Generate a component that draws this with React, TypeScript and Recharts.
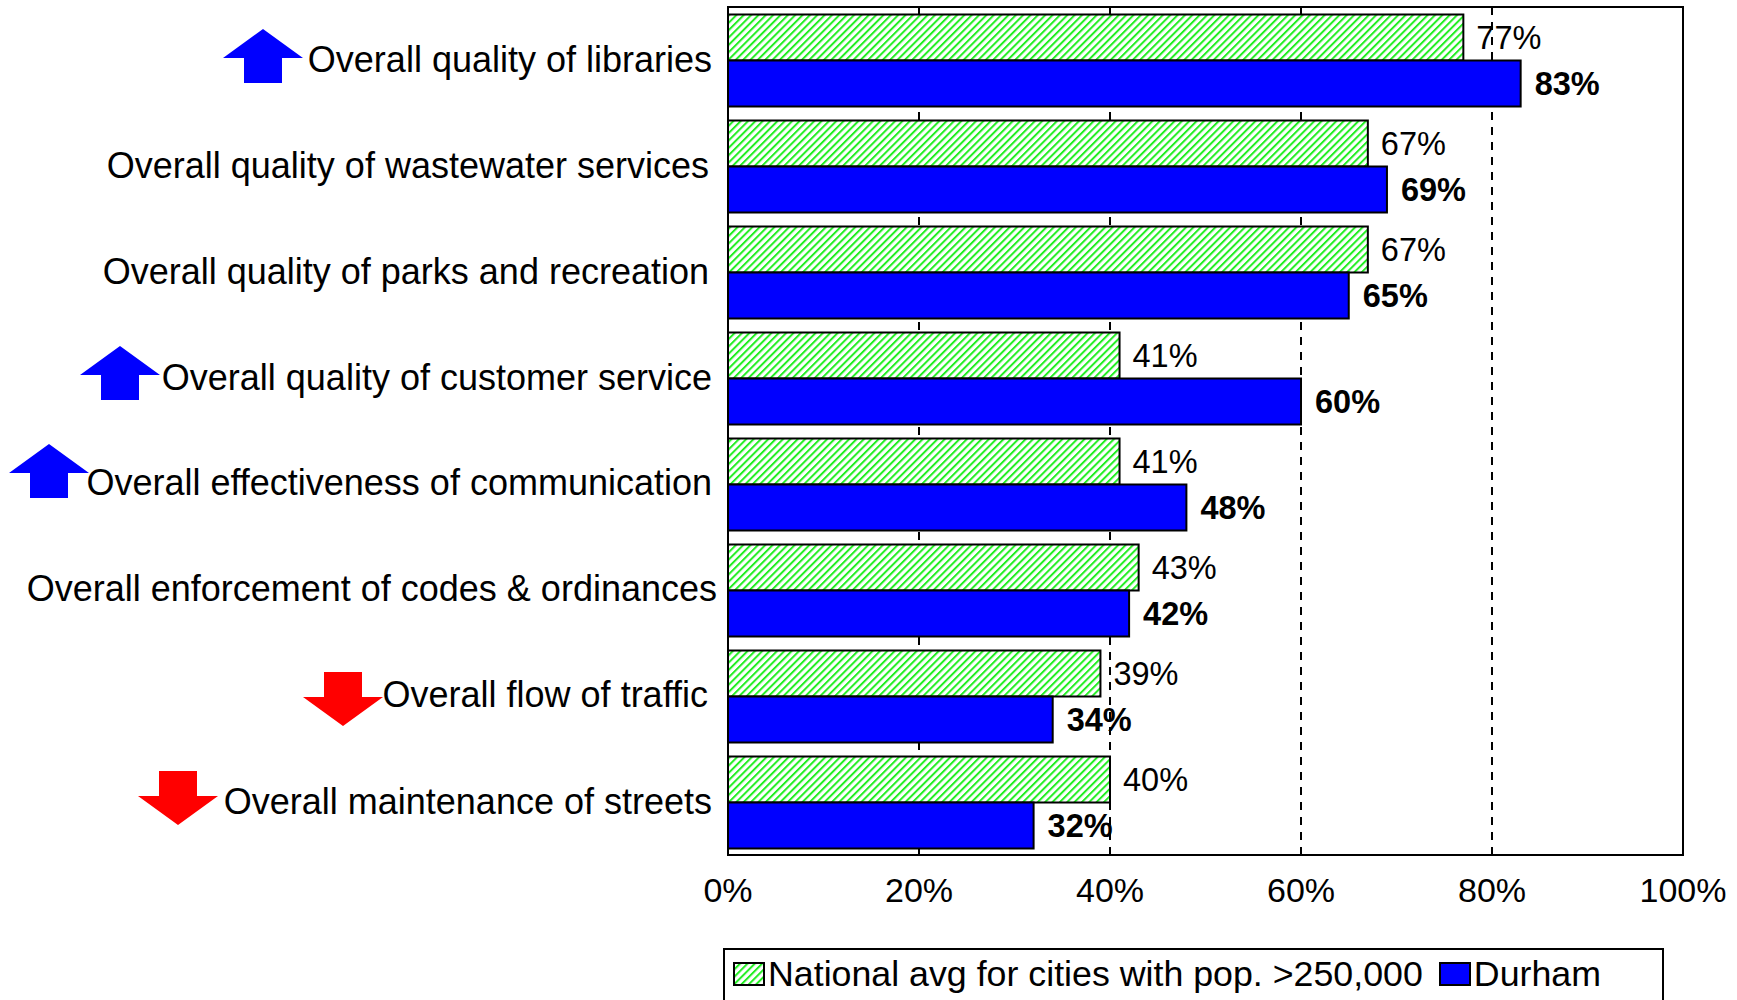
import { Bar, BarChart, CartesianGrid, LabelList, Legend, ReferenceArea, XAxis, YAxis } from 'recharts'

const categories = [
  'Overall quality of libraries',
  'Overall quality of wastewater services',
  'Overall quality of parks and recreation',
  'Overall quality of customer service',
  'Overall effectiveness of communication',
  'Overall enforcement of codes & ordinances',
  'Overall flow of traffic',
  'Overall maintenance of streets',
]
const nationalAvg = [77, 67, 67, 41, 41, 43, 39, 40]
const durham = [83, 69, 65, 60, 48, 42, 34, 32]
const xTicks = [0, 20, 40, 60, 80, 100]
const trends = ['up', '', '', 'up', 'up', '', 'down', 'down']

// hand placed in the original, so each label and arrow sits a little differently
const labelEnds = [712, 709, 709, 712, 712, 717, 708, 712]
const labelShifts = [0, 0, 0, 0, -1, -1, -1, 0]
const arrowCenters = [263, 0, 0, 120, 49, 0, 343, 178]
const arrowShifts = [-4, 0, 0, -5, -13, 0, 3, -4]

const FONT = '"Liberation Sans", Arial, sans-serif'
const NATIONAL_NAME = 'National avg for cities with pop. >250,000'

const data = categories.map((name, i) => ({ name, national: nationalAvg[i], durham: durham[i] }))

function CategoryTick({ y, index, payload }: any) {
  const trend = trends[index]
  const cx = arrowCenters[index]
  const s = arrowShifts[index]
  return (
    <g>
      {trend === 'up' && (
        <polygon
          fill="#0000ff"
          points={`${cx},${y + s - 27} ${cx + 40},${y + s + 2} ${cx + 19},${y + s + 2} ${cx + 19},${y + s + 27} ${cx - 19},${y + s + 27} ${cx - 19},${y + s + 2} ${cx - 40},${y + s + 2}`}
        />
      )}
      {trend === 'down' && (
        <polygon
          fill="#ff0000"
          points={`${cx},${y + s + 27} ${cx + 40},${y + s - 2} ${cx + 19},${y + s - 2} ${cx + 19},${y + s - 27} ${cx - 19},${y + s - 27} ${cx - 19},${y + s - 2} ${cx - 40},${y + s - 2}`}
        />
      )}
      <text x={labelEnds[index]} y={y + labelShifts[index]} dy={12} textAnchor="end" fontFamily={FONT} fontSize={36} fill="#000">
        {payload.value}
      </text>
    </g>
  )
}

function Stripes({ id }: { id: string }) {
  return (
    <pattern id={id} width={5.2} height={5.2} patternUnits="userSpaceOnUse" patternTransform="rotate(45)">
      <rect width={5.2} height={5.2} fill="#ffffff" />
      <rect width={2} height={5.2} fill="#22ee22" />
    </pattern>
  )
}

function LegendBox({ payload }: any) {
  return (
    <div
      style={{
        boxSizing: 'border-box',
        width: 941,
        height: 80,
        border: '2px solid #000',
        background: '#fff',
        display: 'flex',
        alignItems: 'flex-start',
        paddingTop: 5,
        paddingLeft: 8,
        fontFamily: FONT,
        fontSize: 35.75,
        lineHeight: '38px',
        color: '#000',
        whiteSpace: 'nowrap',
      }}
    >
      {payload.map((entry: any) => (
        <span key={entry.value} style={{ display: 'flex', alignItems: 'center', marginRight: 16 }}>
          <svg width={32} height={24} style={{ marginRight: 3 }}>
            <defs>
              <Stripes id="legendStripes" />
            </defs>
            <rect
              x={1}
              y={1}
              width={30}
              height={22}
              stroke="#000"
              strokeWidth={2}
              fill={entry.dataKey === 'national' ? 'url(#legendStripes)' : '#0000ff'}
            />
          </svg>
          {entry.value}
        </span>
      ))}
    </div>
  )
}

export default function App() {
  return (
    <div style={{ position: 'absolute', left: 0, top: 0, width: 1737, height: 1000, overflow: 'hidden', background: '#fff' }}>
      <BarChart
        width={1737}
        height={1000}
        data={data}
        layout="vertical"
        barCategoryGap="7%"
        barGap={0}
        margin={{ top: 7, right: 54, bottom: 85, left: 0 }}
      >
        <defs>
          <Stripes id="nationalStripes" />
        </defs>
        <CartesianGrid horizontal={false} stroke="#000" strokeWidth={2} strokeDasharray="8 7" />
        <XAxis
          type="number"
          domain={[0, 100]}
          ticks={xTicks}
          tickFormatter={(value) => `${value}%`}
          axisLine={false}
          tickLine={false}
          height={60}
          tickMargin={17}
          tick={{ fill: '#000', fontSize: 34, fontFamily: FONT }}
        />
        <YAxis
          type="category"
          dataKey="name"
          width={728}
          interval={0}
          axisLine={false}
          tickLine={false}
          tick={<CategoryTick />}
        />
        <Legend
          layout="horizontal"
          verticalAlign="middle"
          align="center"
          itemSorter={null}
          content={<LegendBox />}
          wrapperStyle={{ left: 723, top: 948, width: 941, height: 80 }}
        />
        <Bar dataKey="national" name={NATIONAL_NAME} fill="url(#nationalStripes)" stroke="#000" strokeWidth={2} isAnimationActive={false}>
          <LabelList
            dataKey="national"
            position="right"
            offset={13}
            formatter={(value: number) => `${value}%`}
            style={{ fill: '#000', fontSize: 32.5, fontFamily: FONT }}
          />
        </Bar>
        <Bar dataKey="durham" name="Durham" fill="#0000ff" stroke="#000" strokeWidth={2} isAnimationActive={false}>
          <LabelList
            dataKey="durham"
            position="right"
            offset={14}
            formatter={(value: number) => `${value}%`}
            style={{ fill: '#000', fontSize: 32.5, fontWeight: 700, fontFamily: FONT }}
          />
        </Bar>
        <ReferenceArea x1={0} x2={100} fill="none" stroke="#000" strokeWidth={2} />
      </BarChart>
    </div>
  )
}
